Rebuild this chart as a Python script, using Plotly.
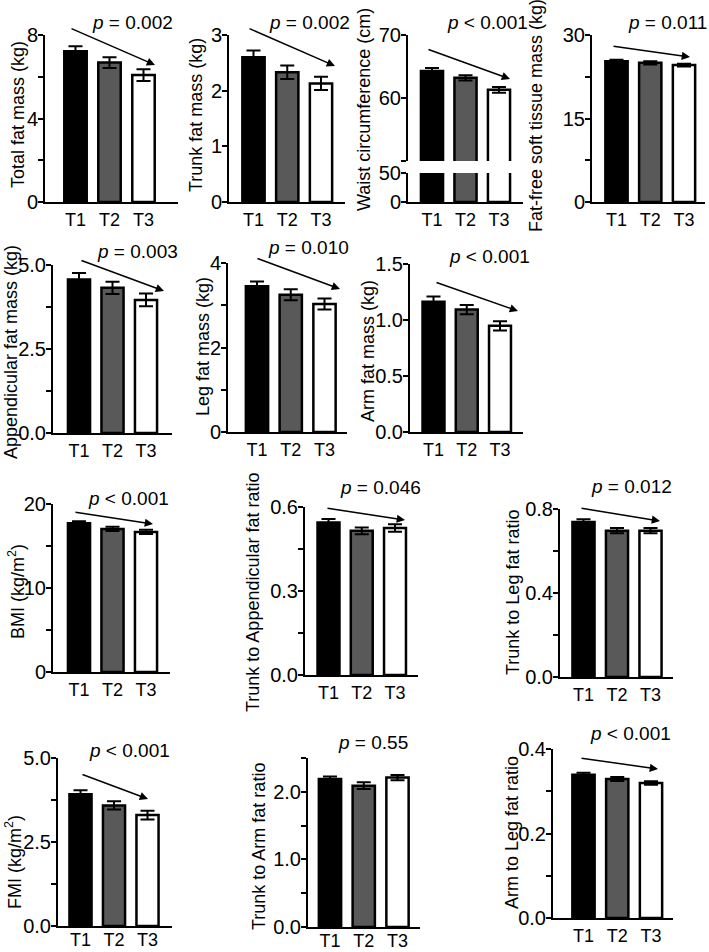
import plotly.graph_objects as go

W, H = 709, 952
FONT = "Arial, Liberation Sans, sans-serif"
FS_YT = 20   # y tick labels
FS_XT = 18   # x tick labels
FS_TI = 18   # axis titles
FS_P = 19    # p-value text

categories = ["T1", "T2", "T3"]
bar_colors = ["#000000", "#595959", "#ffffff"]

# ---- data (means and SEs) ----
total_fat = [7.22, 6.68, 6.08]
total_fat_se = [0.24, 0.26, 0.28]
trunk_fat = [2.60, 2.33, 2.13]
trunk_fat_se = [0.12, 0.12, 0.12]
waist = [64.3, 63.2, 61.3]
waist_se = [0.45, 0.42, 0.45]
ffstm = [25.3, 25.0, 24.6]
ffstm_se = [0.25, 0.3, 0.25]
append_fat = [4.57, 4.32, 3.96]
append_fat_se = [0.19, 0.18, 0.19]
leg_fat = [3.45, 3.25, 3.03]
leg_fat_se = [0.11, 0.13, 0.13]
arm_fat = [1.164, 1.093, 0.948]
arm_fat_se = [0.045, 0.042, 0.041]
bmi = [17.7, 17.03, 16.67]
bmi_se = [0.25, 0.25, 0.25]
trunk_app_ratio = [0.545, 0.515, 0.525]
trunk_app_ratio_se = [0.012, 0.012, 0.013]
trunk_leg_ratio = [0.738, 0.697, 0.697]
trunk_leg_ratio_se = [0.013, 0.013, 0.013]
fmi = [3.92, 3.59, 3.30]
fmi_se = [0.12, 0.12, 0.13]
trunk_arm_ratio = [2.19, 2.09, 2.21]
trunk_arm_ratio_se = [0.035, 0.05, 0.04]
arm_leg_ratio = [0.339, 0.329, 0.3195]
arm_leg_ratio_se = [0.005, 0.005, 0.004]

p_texts = ["<i>p</i> = 0.002", "<i>p</i> = 0.002", "<i>p</i> < 0.001", "<i>p</i> = 0.011",
           "<i>p</i> = 0.003", "<i>p</i> = 0.010", "<i>p</i> < 0.001",
           "<i>p</i> < 0.001", "<i>p</i> = 0.046", "<i>p</i> = 0.012",
           "<i>p</i> < 0.001", "<i>p</i> = 0.55", "<i>p</i> < 0.001"]

# panel definitions: data, labelled y ticks, unlabelled (minor) y ticks, range
panels = [
    dict(y=total_fat, e=total_fat_se, title="Total fat mass (kg)",
         tv=[0, 4, 8], tt=["0", "4", "8"], mv=[2, 6], rng=[0, 8]),
    dict(y=trunk_fat, e=trunk_fat_se, title="Trunk fat mass (kg)",
         tv=[0, 1, 2, 3], tt=["0", "1", "2", "3"], mv=[], rng=[0, 3]),
    dict(y=waist, e=waist_se, title="Waist circumference (cm)",
         tv=[0, 50], tt=["0", "50"], mv=[], rng=[0, 50],
         tv_up=[60, 70], tt_up=["60", "70"], mv_up=[50], rng_up=[50, 70]),
    dict(y=ffstm, e=ffstm_se, title="Fat-free soft tissue mass (kg)",
         tv=[0, 15, 30], tt=["0", "15", "30"], mv=[7.5, 22.5], rng=[0, 30]),
    dict(y=append_fat, e=append_fat_se, title="Appendicular fat mass (kg)",
         tv=[0, 2.5, 5], tt=["0.0", "2.5", "5.0"], mv=[1.25, 3.75], rng=[0, 5]),
    dict(y=leg_fat, e=leg_fat_se, title="Leg fat mass (kg)",
         tv=[0, 2, 4], tt=["0", "2", "4"], mv=[1, 3], rng=[0, 4]),
    dict(y=arm_fat, e=arm_fat_se, title="Arm fat mass (kg)",
         tv=[0, 0.5, 1.0, 1.5], tt=["0.0", "0.5", "1.0", "1.5"], mv=[], rng=[0, 1.5]),
    dict(y=bmi, e=bmi_se, title="BMI (kg/m<sup>2</sup>)",
         tv=[0, 10, 20], tt=["0", "10", "20"], mv=[5, 15], rng=[0, 20]),
    dict(y=trunk_app_ratio, e=trunk_app_ratio_se, title="Trunk to Appendicular fat ratio",
         tv=[0, 0.3, 0.6], tt=["0.0", "0.3", "0.6"], mv=[0.15, 0.45], rng=[0, 0.6]),
    dict(y=trunk_leg_ratio, e=trunk_leg_ratio_se, title="Trunk to Leg fat ratio",
         tv=[0, 0.4, 0.8], tt=["0.0", "0.4", "0.8"], mv=[0.2, 0.6], rng=[0, 0.8]),
    dict(y=fmi, e=fmi_se, title="FMI (kg/m<sup>2</sup>)",
         tv=[0, 2.5, 5], tt=["0.0", "2.5", "5.0"], mv=[1.25, 3.75], rng=[0, 5]),
    dict(y=trunk_arm_ratio, e=trunk_arm_ratio_se, title="Trunk to Arm fat ratio",
         tv=[0, 1, 2], tt=["0.0", "1.0", "2.0"], mv=[0.5, 1.5, 2.5], rng=[0, 2.5]),
    dict(y=arm_leg_ratio, e=arm_leg_ratio_se, title="Arm to Leg fat ratio",
         tv=[0, 0.2, 0.4], tt=["0.0", "0.2", "0.4"], mv=[0.1, 0.3], rng=[0, 0.4]),
]

# geometry in pixels: axis left, axis right, first bar centre, bar spacing,
# plot top, plot bottom, title centre (x,y), p-text centre (x,y), arrow tail/head,
# x tick-label standoff
geom = [
    dict(L=45, R=178, c0=75.5, s=34, top=35, bot=202, tx=18, ty=115, px=132, py=22, arr=(70, 28, 155, 65), xs=0),
    dict(L=229, R=345, c0=253.5, s=33.75, top=35, bot=202, tx=196, ty=115, px=309, py=22, arr=(248, 28, 335, 66), xs=0),
    dict(L=408, R=523, c0=432, s=33.5, top=173, bot=202, top_up=35, bot_up=161, tx=364, ty=110, px=487, py=22, arr=(427, 49, 510, 79), xs=0),
    dict(L=592, R=705, c0=616.5, s=33.75, top=35, bot=202, tx=536, ty=116, px=667, py=22, arr=(612, 46, 690, 57), xs=0),
    dict(L=53, R=172, c0=79, s=33.5, top=265, bot=433, tx=11, ty=352, px=137, py=252, arr=(80, 260, 164, 291), xs=0),
    dict(L=228, R=347, c0=257, s=33.75, top=263, bot=432, tx=203, ty=347, px=308, py=248, arr=(256, 258, 340, 289), xs=0),
    dict(L=410, R=523, c0=433.5, s=33.25, top=264, bot=432, tx=368, ty=351, px=489, py=257, arr=(435, 282, 518, 311), xs=0),
    dict(L=53, R=170, c0=79, s=33.5, top=504, bot=672, tx=16, ty=592, px=128, py=498, arr=(74, 512, 153, 524), xs=0),
    dict(L=305, R=418, c0=328.5, s=33.25, top=507, bot=675, tx=253, ty=593, px=380, py=488, arr=(326, 508, 405, 520), xs=0),
    dict(L=560, R=673, c0=583.5, s=33.5, top=509, bot=677, tx=513, ty=593, px=631, py=487, arr=(580, 508, 660, 521), xs=0),
    dict(L=58, R=172, c0=80.5, s=33.5, top=758, bot=926, tx=13, ty=862, px=129, py=750, arr=(81, 774, 148, 799), xs=-4),
    dict(L=308, R=420, c0=330, s=33.75, top=758, bot=927, tx=259, ty=847, px=373, py=742, arr=None, xs=-4),
    dict(L=553, R=673, c0=583.5, s=33.75, top=749, bot=918, tx=512, ty=833, px=630, py=733, arr=(580, 758, 658, 769), xs=0),
]


def fx(p):
    return p / W


def fy(p):
    return 1 - p / H


fig = go.Figure()
layout = dict(width=W, height=H, margin=dict(l=0, r=0, t=0, b=0, autoexpand=False),
              paper_bgcolor="white", plot_bgcolor="white", showlegend=False,
              font=dict(family=FONT, size=FS_TI, color="black"))
annotations = []

axis_common = dict(showline=True, linecolor="black", linewidth=2, showgrid=False,
                   zeroline=False, fixedrange=True, automargin=False)


def add_panel(k, yvals, evals, xrng, xdom, ydom, yrng, tv, tt, mv, xs, show_x=True):
    fig.add_trace(go.Bar(
        x=categories, y=yvals, xaxis=f"x{k}", yaxis=f"y{k}", width=0.66,
        marker=dict(color=bar_colors, line=dict(color="black", width=2.5)),
        error_y=dict(type="data", array=evals, symmetric=True, color="black",
                     thickness=2, width=7),
        hoverinfo="skip"))
    layout[f"xaxis{k}"] = dict(axis_common, domain=xdom, range=xrng, type="category",
                               categoryorder="array", categoryarray=categories,
                               anchor=f"y{k}", ticks="", showline=show_x,
                               showticklabels=show_x, tickfont=dict(size=FS_XT),
                               ticklabelstandoff=xs)
    ydict = dict(axis_common, domain=ydom, range=yrng, anchor=f"x{k}",
                 tickmode="array", tickvals=tv, ticktext=tt,
                 ticks="outside", ticklen=5, tickwidth=2,
                 tickcolor="black", tickfont=dict(size=FS_YT), ticklabelstandoff=-4)
    if mv:
        ydict["minor"] = dict(tickmode="array", tickvals=mv, ticks="outside",
                              ticklen=5, tickwidth=2, tickcolor="black", showgrid=False)
    layout[f"yaxis{k}"] = ydict


k = 1
for i, (pn, g) in enumerate(zip(panels, geom)):
    xrng = [(g["L"] - g["c0"]) / g["s"], (g["R"] - g["c0"]) / g["s"]]
    xdom = [fx(g["L"]), fx(g["R"])]
    add_panel(k, pn["y"], pn["e"], xrng, xdom, [fy(g["bot"]), fy(g["top"])],
              pn["rng"], pn["tv"], pn["tt"], pn["mv"], g["xs"])
    k += 1
    if "rng_up" in pn:
        add_panel(k, pn["y"], pn["e"], xrng, xdom, [fy(g["bot_up"]), fy(g["top_up"])],
                  pn["rng_up"], pn["tv_up"], pn["tt_up"], pn["mv_up"], g["xs"], show_x=False)
        k += 1
    # y title
    annotations.append(dict(text=pn["title"], x=fx(g["tx"]), y=fy(g["ty"]),
                            xref="paper", yref="paper", xanchor="center", yanchor="middle",
                            textangle=-90, showarrow=False, font=dict(size=FS_TI)))
    # p text
    annotations.append(dict(text=p_texts[i], x=fx(g["px"]), y=fy(g["py"]),
                            xref="paper", yref="paper", xanchor="center", yanchor="middle",
                            showarrow=False, font=dict(size=FS_P)))
    if g["arr"] is not None:
        x0, y0, x1, y1 = g["arr"]
        annotations.append(dict(text="", x=fx(x1), y=fy(y1), xref="paper", yref="paper",
                                ax=x0 - x1, ay=y0 - y1, axref="pixel", ayref="pixel",
                                showarrow=True, arrowhead=2, arrowsize=1.1,
                                arrowwidth=1.5, arrowcolor="black"))

layout["annotations"] = annotations
fig.update_layout(**layout)
fig.write_html("out.html", config={"displayModeBar": False})
